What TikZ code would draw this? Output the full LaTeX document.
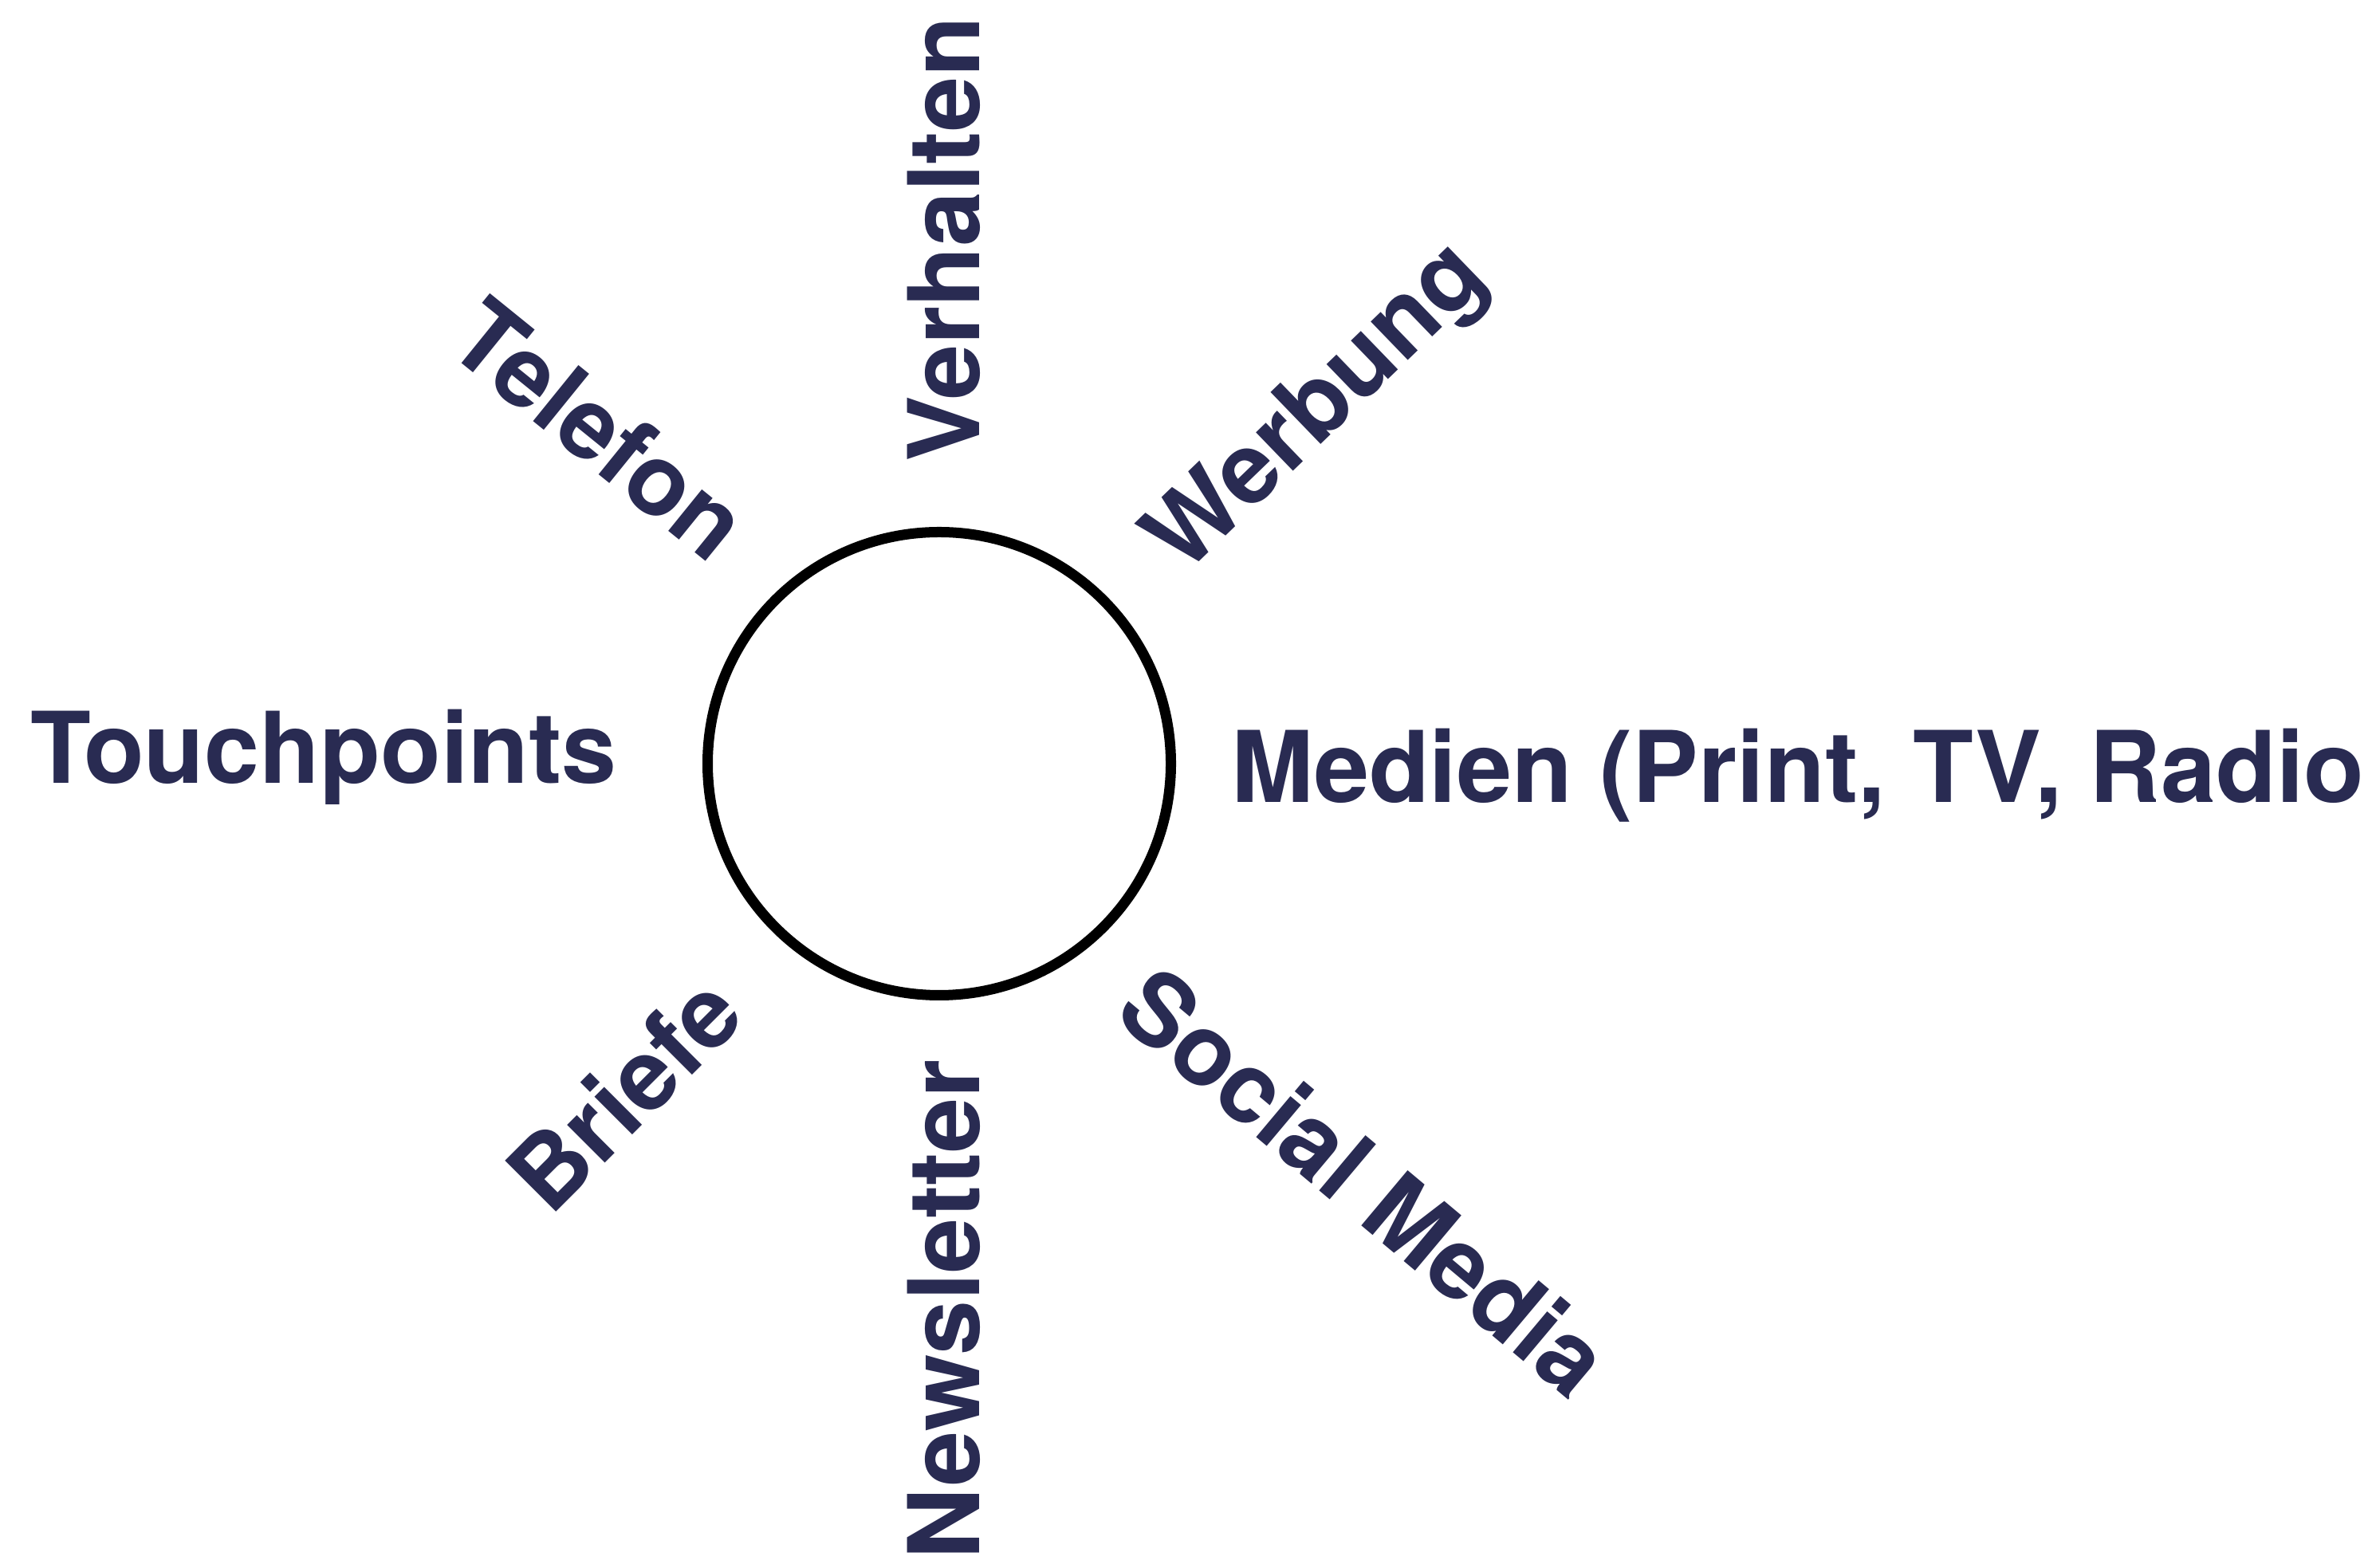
\documentclass[tikz,border=0pt]{standalone}
\usepackage{fontspec}
\setmainfont{TeX Gyre Heros}
\definecolor{navy}{RGB}{41,43,82}
\begin{document}
\begin{tikzpicture}[lbl/.style={text=navy,inner sep=0pt,font=\fontsize{35.3}{40}\selectfont\bfseries}]
\useasboundingbox (0,0) rectangle (29.8,19.66);
\node[draw,circle,line width=3.7pt,minimum size=58.1mm,inner sep=0pt] (kreis) at (11.78,10.08) {};
\node[lbl,anchor=base] (touch) at (4.06,9.83) {Touchpoints};
\node[lbl,anchor=base west] (medien) at (15.44,9.59) {Medien (Print, TV, Radio};
\node[lbl,anchor=base,rotate=90] (verh) at (12.28,16.66) {Verhalten};
\node[lbl,anchor=base,rotate=90] (news) at (12.28,3.23) {Newsletter};
\node[lbl,rotate=-39] (tel) at (7.52,14.27) {Telefon};
\node[lbl,rotate=44] (werb) at (16.55,14.51) {Werbung};
\node[lbl,rotate=45] (brief) at (7.82,5.95) {Briefe};
\node[lbl,rotate=-40] (social) at (17.12,4.84) {Social Media};
\end{tikzpicture}
\end{document}
